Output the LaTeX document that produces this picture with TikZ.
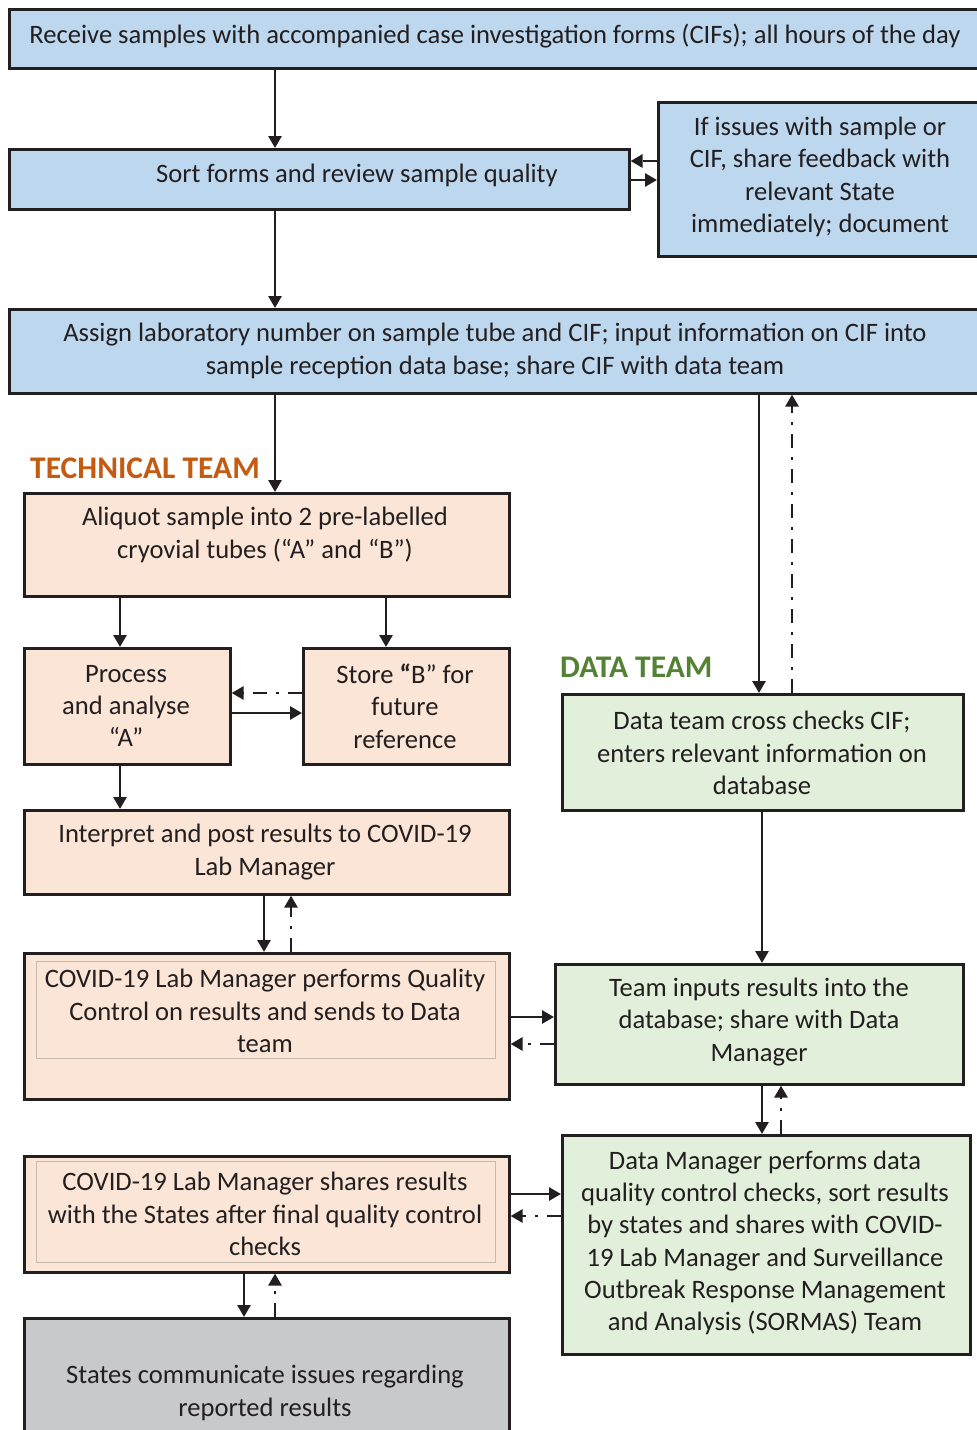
\documentclass[tikz,border=0pt]{standalone}
\usepackage{fontspec}
\setmainfont{Carlito}
\usetikzlibrary{arrows.meta}
\definecolor{bluef}{RGB}{189,215,238}
\definecolor{peachf}{RGB}{251,229,214}
\definecolor{greenf}{RGB}{226,239,218}
\definecolor{grayf}{RGB}{200,201,203}
\definecolor{inkc}{RGB}{35,31,32}
\definecolor{innerc}{RGB}{200,185,175}
\definecolor{techc}{RGB}{197,90,17}
\definecolor{datac}{RGB}{84,130,53}
\begin{document}
\begin{tikzpicture}[x=1pt,y=-1pt,
  bx/.style={draw=inkc,line width=2.6pt,fill=#1,anchor=north west,inner sep=0pt},
  inbox/.style={draw=innerc,line width=0.8pt,anchor=north west,inner sep=0pt},
  txt/.style={align=center,text=inkc,font=\fontsize{26.6}{32.3}\selectfont,inner sep=0pt},
  lbl/.style={font=\fontsize{31.5}{36}\selectfont\bfseries,anchor=west,inner sep=0pt},
  arr/.style={draw=inkc,line width=2.8pt,-{Triangle[length=12pt,width=13pt]}},
  darr/.style={arr,dash pattern=on 14pt off 9pt on 3pt off 9pt}]
\useasboundingbox (0,0) rectangle (977,1430);
\fill[white] (0,0) rectangle (977,1430);
% boxes
\node[bx=bluef,minimum width=972pt,minimum height=59pt] (recv) at (8,8) {};
\node[bx=bluef,minimum width=620pt,minimum height=60pt] (sort) at (8,148) {};
\node[bx=bluef,minimum width=323pt,minimum height=154pt] (issue) at (657,101) {};
\node[bx=bluef,minimum width=972pt,minimum height=84pt] (assign) at (8,308) {};
\node[bx=peachf,minimum width=485pt,minimum height=103pt] (aliq) at (23,492) {};
\node[bx=peachf,minimum width=206pt,minimum height=116pt] (proc) at (23,647) {};
\node[bx=peachf,minimum width=206pt,minimum height=116pt] (store) at (302,647) {};
\node[bx=peachf,minimum width=485pt,minimum height=84pt] (interp) at (23,809) {};
\node[bx=peachf,minimum width=485pt,minimum height=146pt] (qc) at (23,952) {};
\node[inbox,minimum width=459pt,minimum height=97pt] (qcin) at (36,961) {};
\node[bx=peachf,minimum width=485pt,minimum height=116pt] (share) at (23,1155) {};
\node[inbox,minimum width=459pt,minimum height=101pt] (sharein) at (36,1161) {};
\node[bx=grayf,minimum width=485pt,minimum height=125pt] (states) at (23,1317) {};
\node[bx=greenf,minimum width=401pt,minimum height=116pt] (dcross) at (561,693) {};
\node[bx=greenf,minimum width=408pt,minimum height=120pt] (tinput) at (554,963) {};
\node[bx=greenf,minimum width=408pt,minimum height=219pt] (dman) at (561,1134) {};
% texts
\node[txt] (trecv) at (495,36) {Receive samples with accompanied case investigation forms (CIFs); all hours of the day};
\node[txt] (tsort) at (357,175) {Sort forms and review sample quality};
\node[txt] (tissue) at (820,177) {If issues with sample or\\CIF, share feedback with\\relevant State\\immediately; document};
\node[txt] (tassign) at (495,351) {Assign laboratory number on sample tube and CIF; input information on CIF into\\sample reception data base; share CIF with data team};
\node[txt] (taliq) at (265,535) {Aliquot sample into 2 pre-labelled\\cryovial tubes (“A” and “B”)};
\node[txt] (tproc) at (126,706) {Process\\and analyse\\“A”};
\node[txt] (tstore) at (405,706) {Store \textbf{“}B” for\\future\\reference};
\node[txt] (tinterp) at (265,852) {Interpret and post results to COVID-19\\Lab Manager};
\node[txt] (tqc) at (265,1011) {COVID-19 Lab Manager performs Quality\\Control on results and sends to Data\\team};
\node[txt] (tshare) at (265,1214) {COVID-19 Lab Manager shares results\\with the States after final quality control\\checks};
\node[txt] (tstates) at (265,1393) {States communicate issues regarding\\reported results};
\node[txt] (tdcross) at (762,753) {Data team cross checks CIF;\\enters relevant information on\\database};
\node[txt] (ttinput) at (759,1022) {Team inputs results into the\\database; share with Data\\Manager};
\node[txt] (tdman) at (765,1243) {Data Manager performs data\\quality control checks, sort results\\by states and shares with COVID-\\19 Lab Manager and Surveillance\\Outbreak Response Management\\and Analysis (SORMAS) Team};
\node[lbl,text=techc] (ltech) at (30,468) {TECHNICAL TEAM};
\node[lbl,text=datac] (ldata) at (560,667) {DATA TEAM};
% helper coordinates
\coordinate (c120) at (120,0);
\coordinate (c244) at (244,0);
\coordinate (c264) at (264,0);
\coordinate (c275) at (275,0);
\coordinate (c291) at (291,0);
\coordinate (c386) at (386,0);
\coordinate (c759) at (759,0);
\coordinate (c762) at (762,0);
\coordinate (c781) at (781,0);
\coordinate (c792) at (792,0);
\coordinate (r161) at (0,161);
\coordinate (r180) at (0,180);
\coordinate (r693) at (0,693);
\coordinate (r713) at (0,713);
\coordinate (r1017) at (0,1017);
\coordinate (r1044) at (0,1044);
\coordinate (r1194) at (0,1194);
\coordinate (r1216) at (0,1216);
% connectors
\draw[arr] (recv.south -| c275) -- (sort.north -| c275);
\draw[arr] (sort.south -| c275) -- (assign.north -| c275);
\draw[arr] (sort.east |- r180) -- (issue.west |- r180);
\draw[darr] (issue.west |- r161) -- (sort.east |- r161);
\draw[arr] (assign.south -| c275) -- (aliq.north -| c275);
\draw[arr] (assign.south -| c759) -- (dcross.north -| c759);
\draw[darr] (dcross.north -| c792) -- (assign.south -| c792);
\draw[arr] (aliq.south -| c120) -- (proc.north -| c120);
\draw[arr] (aliq.south -| c386) -- (store.north -| c386);
\draw[arr] (proc.east |- r713) -- (store.west |- r713);
\draw[darr] (store.west |- r693) -- (proc.east |- r693);
\draw[arr] (proc.south -| c120) -- (interp.north -| c120);
\draw[arr] (interp.south -| c264) -- (qc.north -| c264);
\draw[darr] (qc.north -| c291) -- (interp.south -| c291);
\draw[arr] (qc.east |- r1017) -- (tinput.west |- r1017);
\draw[darr] (tinput.west |- r1044) -- (qc.east |- r1044);
\draw[arr] (dcross.south -| c762) -- (tinput.north -| c762);
\draw[arr] (tinput.south -| c762) -- (dman.north -| c762);
\draw[darr] (dman.north -| c781) -- (tinput.south -| c781);
\draw[arr] (share.east |- r1194) -- (dman.west |- r1194);
\draw[darr] (dman.west |- r1216) -- (share.east |- r1216);
\draw[arr] (share.south -| c244) -- (states.north -| c244);
\draw[darr] (states.north -| c275) -- (share.south -| c275);
\end{tikzpicture}
\end{document}
